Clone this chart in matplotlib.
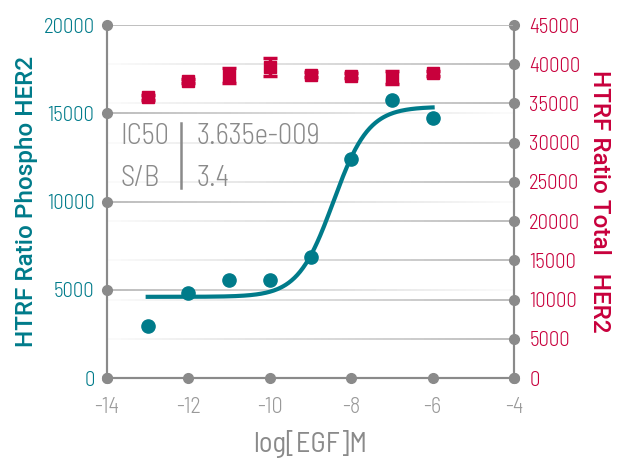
import numpy as np
import matplotlib.pyplot as plt
from matplotlib.collections import LineCollection

# data
log_egf = [-13, -12, -11, -10, -9, -8, -7, -6]
phospho = [2950, 4820, 5550, 5550, 6860, 12410, 15750, 14730]
total = [35800, 37850, 38550, 39650, 38650, 38550, 38300, 38850]
total_err = [300, 300, 950, 1200, 300, 300, 850, 300]

# 4PL fit shown on the chart
fit_bottom = 4600
fit_top = 15370
fit_log_ic50 = np.log10(3.635e-9)
fit_hill = 1.0

teal = '#007b8a'
crimson = '#c8003c'
grey = '#8a8a8a'

plt.rcParams['font.family'] = ['Barlow Semi Condensed', 'Barlow Condensed', 'DejaVu Sans']
plt.rcParams['font.weight'] = 300
plt.rcParams['axes.unicode_minus'] = False
label_font = ['Roboto', 'DejaVu Sans']

fig = plt.figure(figsize=(6.24, 4.66), dpi=100)
ax = fig.add_axes([0.1715, 0.1888, 0.6522, 0.7575])
ax2 = ax.twinx()

ax.set_xlim(-14, -4)
ax.set_ylim(0, 20000)
ax2.set_ylim(0, 45000)
ax.set_xticks(np.arange(-14, -3, 2))
ax.set_yticks(np.arange(0, 20001, 5000))
ax2.set_yticks(np.arange(0, 45001, 5000))


def fade_line(axis, y, reverse=False):
    xs = np.linspace(-14, -4, 60)
    segs = [[(xs[i], y), (xs[i + 1], y)] for i in range(len(xs) - 1)]
    a = np.linspace(0.8, 0.05, len(segs))
    if reverse:
        a = a[::-1]
    cols = [(0.62, 0.62, 0.62, v) for v in a]
    axis.add_collection(LineCollection(segs, colors=cols, linewidths=1.2, zorder=0))


for y in [5000, 10000, 15000]:
    fade_line(ax, y)
for y in range(5000, 45000, 5000):
    fade_line(ax2, y, reverse=True)
ax.axhline(20000, color='#b4b4b4', lw=1.2, zorder=0)

for a in (ax, ax2):
    for s in a.spines.values():
        s.set_color(grey)
        s.set_linewidth(1.5)
    a.spines['top'].set_visible(False)
    a.tick_params(length=0, labelsize=15, pad=9)

ax.tick_params(axis='x', colors='#999999', labelsize=16, pad=14)
ax.tick_params(axis='y', colors=teal)
ax2.tick_params(axis='y', colors=crimson, pad=11)

# dots on the axis ticks
dot = dict(marker='o', ms=7, color=grey, ls='none', clip_on=False, zorder=5)
ax.plot(ax.get_xticks(), np.zeros(6), **dot)
ax.plot(np.full(5, -14), ax.get_yticks(), **dot)
ax2.plot(np.full(10, -4), ax2.get_yticks(), **dot)

# fitted curve and data
xc = np.linspace(-13, -6, 300)
yc = fit_bottom + (fit_top - fit_bottom) / (1 + 10 ** ((fit_log_ic50 - xc) * fit_hill))
ax.plot(xc, yc, color=teal, lw=3, zorder=3)
ax.plot(log_egf, phospho, 'o', color=teal, ms=9.5, zorder=4)
ax2.errorbar(log_egf, total, yerr=total_err, fmt='s', color=crimson, ms=8.5,
             elinewidth=2.5, capsize=5, capthick=2.5, zorder=4)

ax.set_zorder(ax2.get_zorder() + 1)
ax.patch.set_visible(False)

ax.set_xlabel('log[EGF]M', color=grey, fontsize=20.5, labelpad=8)
ax.set_ylabel('HTRF Ratio Phospho HER2', color=teal, fontsize=17.5, family=label_font,
              fontweight=500, va='center')
ax2.set_ylabel('HTRF Ratio Total   HER2', color=crimson, fontsize=17.5, family=label_font,
               fontweight=500, rotation=270, va='center')
ax.yaxis.set_label_coords(-0.197, 0.5)
ax2.yaxis.set_label_coords(1.211, 0.5)

ax.text(-13.68, 13711, 'IC50', color=grey, fontsize=20.5, va='center')
ax.text(-13.68, 11331, 'S/B', color=grey, fontsize=20.5, va='center')
ax.text(-11.8, 13711, '3.635e-009', color=grey, fontsize=20.5, va='center')
ax.text(-11.8, 11331, '3.4', color=grey, fontsize=20.5, va='center')
ax.plot([-12.18, -12.18], [10765, 14448], color=grey, lw=1.8)

fig.savefig('out.png', dpi=100)
